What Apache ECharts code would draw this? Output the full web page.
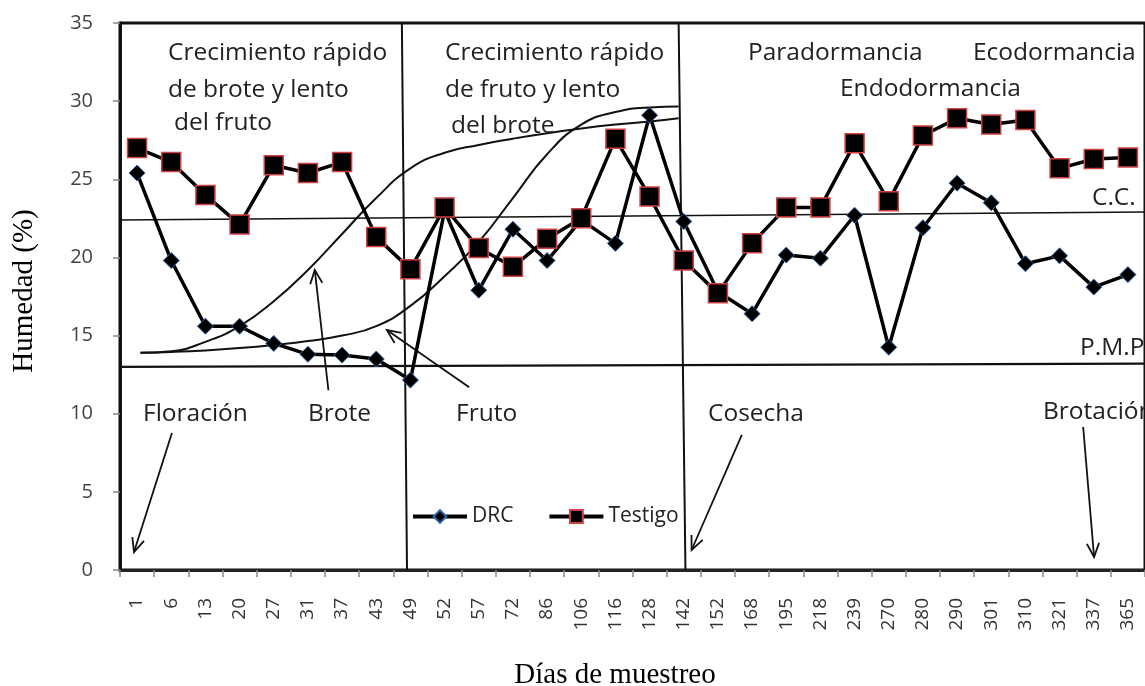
<!DOCTYPE html>
<html>
<head>
<meta charset="utf-8">
<script src="https://cdn.jsdelivr.net/npm/echarts@6/dist/echarts.min.js"></script>
<style>
html,body{margin:0;padding:0;background:#fff;}
#chart{width:1145px;height:686px;}
</style>
</head>
<body>
<div id="chart"></div>
<script>
// ---- data ----
const categories = ['1','6','13','20','27','31','37','43','49','52','57','72','86','106','116','128','142','152','168','195','218','239','270','280','290','301','310','321','337','365'];
const drc = [25.4,19.8,15.6,15.6,14.5,13.8,13.75,13.5,12.15,23.0,17.9,21.8,19.8,22.4,20.9,29.1,22.3,17.8,16.4,20.15,19.95,22.7,14.25,21.9,24.75,23.5,19.6,20.1,18.1,18.9];
const testigo = [27.0,26.1,24.0,22.1,25.9,25.4,26.1,21.3,19.25,23.2,20.6,19.4,21.2,22.5,27.6,23.9,19.8,17.7,20.9,23.2,23.2,27.3,23.6,27.8,28.9,28.5,28.8,25.7,26.3,26.4];
const yTicks = [0,5,10,15,20,25,30,35];
// growth curves: [category position, humidity]
const broteCurve = [[0.1,13.9],[1.0,14.0],[2.0,14.6],[3.0,15.6],[4.0,17.2],[5.0,19.2],[6.0,21.5],[7.0,23.8],[8.0,25.7],[9.0,26.7],[10.0,27.2],[11.0,27.6],[12.0,27.95],[13.0,28.25],[14.0,28.5],[15.0,28.7],[15.85,28.9]];
const frutoCurve = [[0.1,13.9],[1.0,13.95],[2.0,14.05],[3.0,14.2],[4.0,14.4],[5.0,14.65],[6.0,15.0],[7.0,15.6],[8.0,16.9],[9.0,18.8],[10.0,21.0],[11.0,23.8],[12.0,26.6],[13.0,28.5],[14.0,29.3],[15.0,29.6],[15.85,29.65]];
// reference levels (left end, right end)
const ccLevel = [22.4, 22.9];
const pmpLevel = [13.0, 13.2];
// phase dividers: category position at bottom and top
const phaseDividers = [[7.9, 7.75], [16.05, 15.85]];
// annotation arrows: [x start, y start, x end (tip), y end]
const arrows = [[1.02,8.77,-0.09,1.15],[5.6,11.5,5.2,19.2],[9.72,11.7,7.31,15.35],[17.7,8.64,16.23,1.28],[27.69,9.15,28.01,0.83]];
const annotations = [
  ['Crecimiento rápido',168,53],['de brote y lento',168,90],['del fruto',174,123],
  ['Crecimiento rápido',445,53],['de fruto y lento',445,90],['del brote',451,126],
  ['Paradormancia',748,53],['Ecodormancia',973,53],['Endodormancia',840,89],
  ['C.C.',1092,198],['P.M.P.',1080,348],
  ['Floración',143,414],['Brote',308,414],['Fruto',456,414],['Cosecha',708,414],['Brotación',1043,412]
];

const chart = echarts.init(document.getElementById('chart'), null, {renderer:'canvas'});
const annFont = '24.5px "Open Sans"';
const graphics = annotations.map(a => ({
  type:'text', silent:true, z:100,
  style:{text:a[0], x:a[1], y:a[2], font:annFont, fill:'#222', textAlign:'left', textVerticalAlign:'middle'}
}));
graphics.push({type:'text', silent:true, style:{text:'Días de muestreo', x:615, y:675, font:'29px "Liberation Serif"', fill:'#000', textAlign:'center', textVerticalAlign:'middle'}});
graphics.push({type:'text', silent:true, rotation:Math.PI/2, x:24, y:291, style:{text:'Humedad (%)', x:0, y:0, font:'29px "Liberation Serif"', fill:'#000', textAlign:'center', textVerticalAlign:'middle'}});

const ml = (pts, w) => [{coord:pts[0], lineStyle:{width:w}}, {coord:pts[1]}];

chart.setOption({
  animation:false,
  backgroundColor:'#fff',
  grid:{left:120, right:-9, top:23, bottom:116, show:true, borderColor:'#111', borderWidth:3, backgroundColor:'transparent'},
  legend:{
    data:['DRC','Testigo'], left:406, top:501, itemWidth:54, itemHeight:16, itemGap:34,
    lineStyle:{width:4, color:'#000'},
    textStyle:{fontFamily:'Open Sans', fontSize:21, color:'#222'}
  },
  xAxis:[{
    type:'category', data:categories, boundaryGap:true,
    axisLine:{lineStyle:{color:'#222', width:3}},
    axisTick:{show:true, length:7, lineStyle:{color:'#888', width:1.5}},
    axisLabel:{interval:0, rotate:90, margin:28, fontFamily:'Open Sans', fontSize:19, color:'#333'},
    splitLine:{show:false}
  },{
    type:'value', min:-0.5, max:29.5, show:false
  }],
  yAxis:{
    type:'value', min:0, max:35, interval:5,
    axisLine:{show:true, onZero:false, lineStyle:{color:'#111', width:3}},
    axisTick:{show:true, length:7, lineStyle:{color:'#888', width:1.5}},
    axisLabel:{margin:27, fontFamily:'Open Sans', fontSize:20, color:'#444'},
    splitLine:{show:false}
  },
  graphic:graphics,
  series:[
    {
      name:'brote', type:'line', xAxisIndex:1, data:broteCurve, smooth:0.5, showSymbol:false, silent:true, z:1,
      lineStyle:{color:'#111', width:2},
      markLine:{
        silent:true, symbol:['none','none'], label:{show:false},
        lineStyle:{color:'#111', type:'solid'},
        data:[
          ml([[-0.5,ccLevel[0]],[29.5,ccLevel[1]]], 1.5),
          ml([[-0.5,pmpLevel[0]],[29.5,pmpLevel[1]]], 2.2),
          ml([[phaseDividers[0][0],0],[phaseDividers[0][1],35]], 2),
          ml([[phaseDividers[1][0],0],[phaseDividers[1][1],35]], 2)
        ]
      }
    },
    {
      name:'fruto', type:'line', xAxisIndex:1, data:frutoCurve, smooth:0.5, showSymbol:false, silent:true, z:1,
      lineStyle:{color:'#111', width:2}
    },
    {
      name:'arrows', type:'custom', xAxisIndex:1, data:arrows, silent:true, z:5,
      encode:{x:[0,2], y:[1,3]},
      renderItem:function(params, api){
        const p1 = api.coord([api.value(0), api.value(1)]);
        const p2 = api.coord([api.value(2), api.value(3)]);
        const ang = Math.atan2(p2[1]-p1[1], p2[0]-p1[0]);
        const h = 15, s = 0.42;
        const a = [p2[0]-h*Math.cos(ang-s), p2[1]-h*Math.sin(ang-s)];
        const b = [p2[0]-h*Math.cos(ang+s), p2[1]-h*Math.sin(ang+s)];
        return {type:'group', children:[
          {type:'line', shape:{x1:p1[0], y1:p1[1], x2:p2[0], y2:p2[1]}, style:{stroke:'#111', lineWidth:1.8}},
          {type:'polyline', shape:{points:[a,p2,b]}, style:{stroke:'#111', lineWidth:1.8, fill:null}}
        ]};
      }
    },
    {
      name:'DRC', type:'line', data:drc, symbol:'diamond', symbolSize:16, showAllSymbol:true, z:10,
      lineStyle:{color:'#000', width:3.5},
      itemStyle:{color:'#000', borderColor:'#3465a8', borderWidth:1}
    },
    {
      name:'Testigo', type:'line', data:testigo, symbol:'rect', symbolSize:19, showAllSymbol:true, z:11,
      lineStyle:{color:'#000', width:3.5},
      itemStyle:{color:'#000', borderColor:'#d04040', borderWidth:1.5}
    }
  ]
});
</script>
</body>
</html>
